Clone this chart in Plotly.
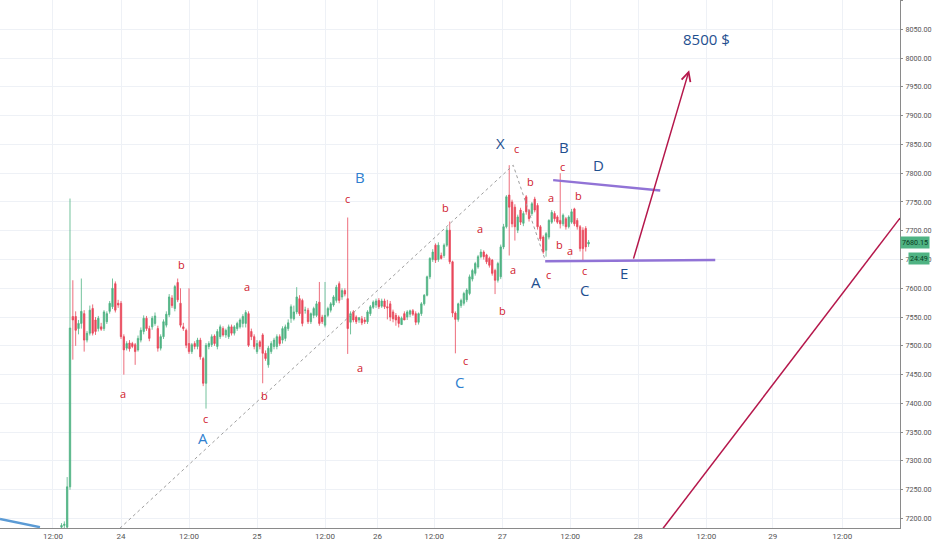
import plotly.graph_objects as go

# 30-minute bars, bar index 0 = start of the 24th
bar_index = list(range(-21, 166))

opens = [
    7185, 7188, 7185, 7255,
    7551, 7551, 7530, 7539, 7556, 7510, 7522, 7565, 7545, 7530, 7533, 7530, 7542, 7560, 7568, 7608, 7574,
    7574, 7516, 7496, 7505, 7504, 7502, 7493, 7510, 7525, 7548, 7530, 7533, 7539, 7530, 7496, 7516, 7536,
    7554, 7583, 7565, 7610, 7574, 7533, 7527, 7504, 7490, 7504, 7499, 7510, 7478, 7435, 7499, 7502, 7517,
    7499, 7516, 7530, 7519, 7516, 7533, 7522, 7530, 7533, 7539, 7539, 7556, 7525, 7516, 7490, 7507, 7519,
    7487, 7467, 7490, 7499, 7499, 7516, 7510, 7513, 7530, 7548, 7547, 7559, 7582, 7579, 7562, 7562, 7542,
    7553, 7553, 7576, 7550, 7536, 7553, 7562, 7571, 7579, 7608, 7585, 7596, 7582, 7541, 7559, 7550, 7545,
    7547, 7545, 7542, 7556, 7567, 7571, 7579, 7569, 7578, 7568, 7573, 7559, 7553, 7550, 7537, 7556, 7550,
    7555, 7561, 7556, 7541, 7556, 7573, 7588, 7620, 7650, 7675, 7650, 7657, 7657, 7675, 7701, 7646, 7557,
    7546, 7570, 7574, 7580, 7591, 7616, 7626, 7637, 7655, 7663, 7658, 7652, 7649, 7631, 7614, 7620, 7672,
    7707, 7762, 7750, 7741, 7701, 7736, 7713, 7759, 7735, 7730, 7755, 7744, 7707, 7689, 7666, 7689, 7715,
    7730, 7724, 7718, 7712, 7721, 7707, 7715, 7738, 7718, 7707, 7701, 7704, 7677,
]
highs = [
    7192, 7195, 7272, 7756,
    7614, 7560, 7545, 7617, 7562, 7526, 7570, 7572, 7550, 7552, 7540, 7562, 7560, 7578, 7617, 7612, 7580,
    7578, 7520, 7508, 7510, 7507, 7505, 7518, 7532, 7553, 7552, 7535, 7552, 7558, 7535, 7520, 7546, 7560,
    7590, 7588, 7606, 7617, 7600, 7540, 7530, 7600, 7505, 7508, 7514, 7514, 7481, 7505, 7508, 7520, 7520,
    7529, 7537, 7534, 7530, 7537, 7537, 7536, 7542, 7548, 7555, 7562, 7560, 7530, 7520, 7510, 7510, 7522,
    7492, 7500, 7508, 7514, 7520, 7520, 7534, 7537, 7546, 7572, 7570, 7602, 7588, 7582, 7568, 7566, 7558,
    7568, 7578, 7611, 7554, 7611, 7568, 7576, 7588, 7606, 7612, 7600, 7600, 7723, 7560, 7562, 7553, 7550,
    7552, 7550, 7562, 7571, 7579, 7582, 7583, 7582, 7582, 7580, 7578, 7563, 7557, 7553, 7551, 7560, 7562,
    7563, 7564, 7560, 7558, 7576, 7590, 7622, 7654, 7668, 7678, 7680, 7662, 7678, 7706, 7716, 7648, 7560,
    7575, 7582, 7594, 7600, 7624, 7634, 7646, 7658, 7668, 7666, 7660, 7655, 7651, 7634, 7646, 7676, 7712,
    7762, 7814, 7754, 7746, 7728, 7740, 7734, 7762, 7738, 7750, 7759, 7748, 7710, 7692, 7698, 7720, 7736,
    7734, 7727, 7800, 7730, 7724, 7727, 7738, 7740, 7722, 7710, 7706, 7708, 7684,
]
lows = [
    7170, 7175, 7180, 7250,
    7476, 7500, 7520, 7530, 7490, 7506, 7518, 7518, 7519, 7525, 7526, 7526, 7538, 7556, 7564, 7558, 7566,
    7512, 7450, 7492, 7490, 7496, 7467, 7490, 7506, 7520, 7526, 7508, 7528, 7535, 7490, 7492, 7512, 7532,
    7550, 7566, 7560, 7576, 7532, 7526, 7496, 7486, 7486, 7494, 7494, 7476, 7430, 7391, 7494, 7498, 7500,
    7494, 7512, 7516, 7514, 7512, 7518, 7518, 7526, 7530, 7532, 7532, 7498, 7510, 7494, 7486, 7494, 7435,
    7474, 7462, 7486, 7494, 7494, 7500, 7504, 7508, 7526, 7540, 7544, 7555, 7552, 7534, 7556, 7538, 7538,
    7548, 7550, 7535, 7538, 7532, 7550, 7558, 7568, 7575, 7574, 7580, 7586, 7486, 7520, 7541, 7538, 7540,
    7536, 7538, 7538, 7552, 7564, 7566, 7564, 7566, 7564, 7546, 7543, 7541, 7535, 7532, 7542, 7546, 7545,
    7550, 7552, 7536, 7537, 7552, 7570, 7586, 7616, 7646, 7644, 7646, 7650, 7653, 7672, 7642, 7550, 7487,
    7542, 7566, 7570, 7576, 7588, 7612, 7622, 7634, 7652, 7650, 7642, 7636, 7622, 7590, 7610, 7616, 7668,
    7704, 7657, 7706, 7683, 7696, 7710, 7708, 7728, 7716, 7726, 7732, 7702, 7682, 7660, 7655, 7685, 7712,
    7716, 7712, 7704, 7708, 7702, 7704, 7712, 7708, 7702, 7664, 7646, 7664, 7672,
]
closes = [
    7188, 7190, 7255, 7531,
    7545, 7527, 7539, 7560, 7510, 7522, 7562, 7522, 7525, 7548, 7529, 7559, 7556, 7574, 7600, 7562, 7571,
    7516, 7493, 7504, 7495, 7499, 7490, 7513, 7527, 7548, 7530, 7513, 7548, 7552, 7496, 7516, 7542, 7555,
    7585, 7570, 7603, 7580, 7536, 7530, 7501, 7490, 7502, 7499, 7510, 7481, 7435, 7501, 7504, 7516, 7504,
    7525, 7533, 7519, 7527, 7533, 7522, 7533, 7539, 7545, 7551, 7558, 7501, 7516, 7499, 7504, 7499, 7487,
    7478, 7496, 7504, 7510, 7516, 7504, 7530, 7533, 7540, 7568, 7559, 7585, 7556, 7539, 7562, 7542, 7556,
    7565, 7573, 7539, 7542, 7553, 7565, 7573, 7585, 7602, 7579, 7596, 7590, 7530, 7556, 7545, 7542, 7549,
    7540, 7542, 7559, 7568, 7576, 7578, 7568, 7578, 7568, 7566, 7550, 7547, 7545, 7539, 7548, 7545, 7559,
    7561, 7555, 7541, 7556, 7573, 7588, 7620, 7652, 7663, 7649, 7675, 7652, 7675, 7701, 7646, 7557, 7546,
    7573, 7579, 7591, 7597, 7620, 7631, 7643, 7655, 7663, 7655, 7646, 7640, 7626, 7614, 7643, 7672, 7707,
    7759, 7741, 7712, 7707, 7724, 7715, 7730, 7733, 7721, 7747, 7736, 7707, 7686, 7663, 7695, 7718, 7732,
    7721, 7715, 7712, 7727, 7707, 7724, 7733, 7712, 7707, 7669, 7669, 7672, 7680.15,
]

# x-axis ticks (bar index -> label)
tick_pos = [-24, 0, 24, 48, 72, 90.5, 110.5, 134.5, 158.5, 182.5, 206.5, 230, 254.5]
tick_text = ["12:00", "24", "12:00", "25", "12:00", "26", "12:00", "27", "12:00", "28", "12:00", "29", "12:00"]

# wave labels: (text, bar, price, kind)
wave_labels = [
    ("a", 0.7, 7417, "small"), ("b", 21.5, 7642, "small"), ("c", 29.7, 7373, "small"),
    ("A", 28.9, 7340, "big"), ("a", 44.5, 7603, "small"), ("b", 50.5, 7414, "small"),
    ("c", 79.8, 7756, "small"), ("B", 84.4, 7793, "big"), ("a", 84.4, 7463, "small"),
    ("b", 114.4, 7741, "small"), ("a", 126.7, 7704, "small"), ("c", 121.4, 7475, "small"),
    ("C", 119.3, 7437, "big"), ("X", 133.8, 7852, "dark"), ("c", 139.4, 7843, "small"),
    ("b", 144.4, 7786, "small"), ("a", 138.4, 7633, "small"), ("b", 134.5, 7562, "small"),
    ("A", 146.5, 7611, "dark"), ("c", 150.7, 7624, "small"), ("a", 151.8, 7758, "small"),
    ("b", 154.6, 7677, "small"), ("B", 156.4, 7846, "dark"), ("c", 155.7, 7812, "small"),
    ("b", 161.3, 7762, "small"), ("a", 158.5, 7666, "small"), ("c", 163.4, 7631, "small"),
    ("C", 163.4, 7597, "dark"), ("D", 168.4, 7814, "dark"), ("E", 177.5, 7626, "dark"),
]
target_text = "8500 $"
target_pos = (206.5, 8034)

# drawings
dotted_x = [-0.4, 138.4, 149.7]
dotted_y = [7183, 7814, 7649]
upper_line_x = [152.5, 190.3]
upper_line_y = [7788, 7770]
lower_line_x = [149.7, 209.7]
lower_line_y = [7647, 7649]
arrow_from = (180.7, 7649)
arrow_to = (200.5, 7979)
long_line_x = [191.3, 274.9]
long_line_y = [7183, 7722]
blue_line_x = [-42.7, -28.6]
blue_line_y = [7199, 7185]

last_price = "7680.15"
countdown = "24:49"

UP = "#4fb383"
DOWN = "#e8475a"
RED_TXT = "#d0202c"
BLUE_TXT = "#2f7fcf"
DARK_TXT = "#1f4f8f"
CRIMSON = "#b5174b"
PURPLE = "#9173d6"

fig = go.Figure()

fig.add_trace(go.Candlestick(
    x=bar_index, open=opens, high=highs, low=lows, close=closes,
    increasing=dict(line=dict(color=UP, width=0.8), fillcolor=UP),
    decreasing=dict(line=dict(color=DOWN, width=0.8), fillcolor=DOWN),
    whiskerwidth=0, showlegend=False, hoverinfo="skip",
))

fig.add_trace(go.Scatter(x=dotted_x, y=dotted_y, mode="lines",
                         line=dict(color="#9e9e9e", width=1, dash="3px,3px"), showlegend=False, hoverinfo="skip"))
fig.add_trace(go.Scatter(x=upper_line_x, y=upper_line_y, mode="lines",
                         line=dict(color=PURPLE, width=2.5), showlegend=False, hoverinfo="skip"))
fig.add_trace(go.Scatter(x=lower_line_x, y=lower_line_y, mode="lines",
                         line=dict(color=PURPLE, width=2.5), showlegend=False, hoverinfo="skip"))
fig.add_trace(go.Scatter(x=long_line_x, y=long_line_y, mode="lines",
                         line=dict(color=CRIMSON, width=1.5), showlegend=False, hoverinfo="skip"))
fig.add_trace(go.Scatter(x=blue_line_x, y=blue_line_y, mode="lines",
                         line=dict(color="#5b9bd5", width=2.5), showlegend=False, hoverinfo="skip"))

# arrow
fig.add_annotation(x=arrow_to[0], y=arrow_to[1], ax=arrow_from[0], ay=arrow_from[1],
                   xref="x", yref="y", axref="x", ayref="y", text="", showarrow=True,
                   arrowhead=5, arrowsize=1.2, arrowwidth=1.5, arrowcolor=CRIMSON)

styles = {
    "small": dict(color=RED_TXT, size=11),
    "big": dict(color=BLUE_TXT, size=15),
    "dark": dict(color=DARK_TXT, size=15),
}
for txt, bx, py, kind in wave_labels:
    fig.add_annotation(x=bx, y=py, text=txt, showarrow=False,
                       font=dict(family="Open Sans", **styles[kind]))

fig.add_annotation(x=target_pos[0], y=target_pos[1], text=target_text, showarrow=False,
                   font=dict(family="Open Sans", size=15, color=DARK_TXT))

# last price / countdown tags on the price scale
fig.add_annotation(xref="paper", yref="y", x=1.0, y=7680.15, xanchor="left", text=last_price,
                   showarrow=False, bgcolor=UP, borderpad=1,
                   font=dict(family="Roboto", size=7.2, color="#0b3d24"))
fig.add_annotation(xref="paper", yref="y", x=1.009, y=7652, xanchor="left", text=countdown,
                   showarrow=False, bgcolor=UP, borderpad=1,
                   font=dict(family="Roboto", size=7.2, color="#0b3d24"))

fig.update_layout(
    width=932, height=550,
    margin=dict(l=0, r=32, t=0, b=22, autoexpand=False),
    plot_bgcolor="white", paper_bgcolor="white",
    xaxis=dict(range=[-42.7, 274.9], tickvals=tick_pos, ticktext=tick_text,
               showgrid=True, gridcolor="#eef1f6", zeroline=False,
               showline=True, linecolor="#8a8a8a", linewidth=1,
               rangeslider=dict(visible=False),
               tickfont=dict(family="Roboto", size=8, color="#555"), ticks=""),
    yaxis=dict(range=[7183.5, 8101], side="right", dtick=50, tick0=7200,
               tickformat=".2f", showgrid=True, gridcolor="#eef1f6", zeroline=False,
               showline=True, linecolor="#8a8a8a", linewidth=1,
               ticks="outside", ticklen=2, tickcolor="#8a8a8a", ticklabelstandoff=1,
               tickfont=dict(family="Roboto", size=7.2, color="#555")),
)

fig.write_html("out.html", config={"displayModeBar": False},
               post_script="document.body.style.margin='0';")
